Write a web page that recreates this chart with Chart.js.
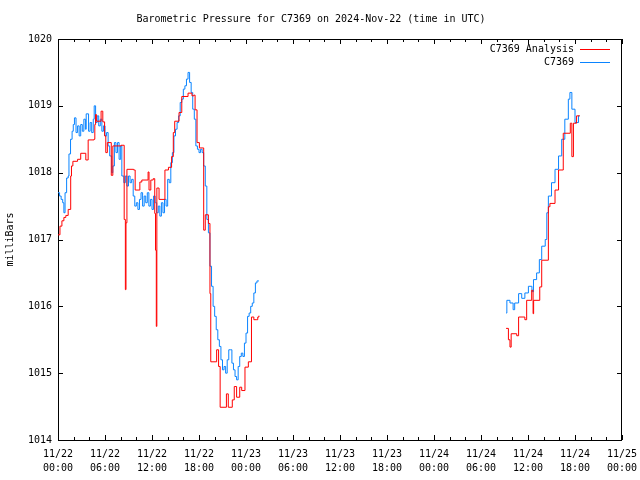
<!DOCTYPE html>
<html><head><meta charset="utf-8">
<script src="https://cdn.jsdelivr.net/npm/chart.js@4.4.1/dist/chart.umd.min.js"></script>
<style>html,body{margin:0;padding:0;background:#fff}#wrap{width:640px;height:480px}</style>
</head><body><div id="wrap"><canvas id="c" width="640" height="480"></canvas></div>
<script>
// ---- data (hours since 2024-11-22 00:00 UTC) ----
const dayLabels = ['11/22', '11/23', '11/24', '11/25'];
const hourLabels = ['00:00', '06:00', '12:00', '18:00'];
const yTickValues = [1014, 1015, 1016, 1017, 1018, 1019, 1020];
const seriesNames = ['C7369 Analysis', 'C7369'];

const analysisHours = [0, 0.25, 0.5, 0.75, 1.0, 1.3, 1.62, 1.72, 1.9, 2.5, 2.9, 3.55, 3.85, 4.6, 4.7, 4.8, 4.9, 5.5, 5.72, 5.95, 6.1, 6.3, 6.8, 7.0, 8.05, 8.45, 8.6, 8.68, 8.8, 9.65, 9.85, 10.45, 10.7, 11.5, 11.62, 11.85, 12.15, 12.35, 12.45, 12.55, 12.62, 12.9, 13.65, 14.1, 14.5, 14.72, 14.9, 15.45, 15.8, 16.6, 17.1, 17.35, 17.5, 17.75, 18.05, 18.6, 18.8, 19.2, 19.4, 19.5, 20.25, 20.5, 20.7, 21.5, 21.74, 22.25, 22.5, 22.8, 23.2, 23.45, 23.87, 24.3, 24.7, 25.0, 25.3, 25.5, 25.65,
  40,
  57.2, 57.5, 57.7, 57.85, 58.56, 58.8, 59.6, 59.83, 60.47, 60.65, 60.72, 61.5, 61.75, 62.6, 62.8, 63.45, 63.9, 64.5, 65.4, 65.6, 65.8, 66.2, 66.6];
const analysisValues = [1017.07, 1017.2, 1017.28, 1017.33, 1017.36, 1017.45, 1017.95, 1018.1, 1018.17, 1018.2, 1018.29, 1018.19, 1018.49, 1018.5, 1018.72, 1018.87, 1018.77, 1018.92, 1018.76, 1018.55, 1018.3, 1018.45, 1017.96, 1018.4, 1018.41, 1017.3, 1016.25, 1017.25, 1018.05, 1018.04, 1017.74, 1017.86, 1017.89, 1018.01, 1017.74, 1017.89, 1017.91, 1017.39, 1016.84, 1015.7, 1017.77, 1017.6, 1018.04, 1018.08, 1018.24, 1018.6, 1018.77, 1018.9, 1019.14, 1019.19, 1019.15, 1019.16, 1018.94, 1018.45, 1018.37, 1017.14, 1017.37, 1017.24, 1016.19, 1015.17, 1015.35, 1015.1, 1014.49, 1014.69, 1014.49, 1014.6, 1014.8, 1014.64, 1014.79, 1014.74, 1015.09, 1015.17, 1015.84, 1015.8, 1015.8, 1015.84, 1015.86,
  null,
  1015.67, 1015.5, 1015.39, 1015.59, 1015.56, 1015.84, 1015.8, 1016.09, 1016.24, 1015.89, 1016.09, 1016.29, 1016.69, 1017.49, 1017.54, 1017.74, 1018.04, 1018.59, 1018.74, 1018.24, 1018.74, 1018.85, 1018.85];

const stationHours = [0, 0.2, 0.4, 0.6, 0.75, 0.9, 1.1, 1.3, 1.4, 1.6, 1.8, 1.95, 2.1, 2.3, 2.5, 2.7, 2.9, 3.1, 3.3, 3.5, 3.6, 3.9, 4.1, 4.3, 4.5, 4.62, 4.8, 5.0, 5.2, 5.4, 5.6, 5.8, 6.0, 6.2, 6.4, 6.6, 6.85, 7.0, 7.2, 7.4, 7.6, 7.8, 8.0, 8.15, 8.4, 8.6, 8.8, 9.0, 9.2, 9.4, 9.6, 9.8, 10.0, 10.2, 10.4, 10.6, 10.8, 11.0, 11.2, 11.4, 11.6, 11.8, 12.0, 12.2, 12.4, 12.6, 12.8, 13.0, 13.2, 13.4, 13.6, 13.8, 14.0, 14.2, 14.4, 14.6, 14.8, 15.0, 15.2, 15.4, 15.6, 15.8, 16.0, 16.2, 16.4, 16.6, 16.8, 17.0, 17.2, 17.4, 17.6, 17.8, 18.0, 18.2, 18.4, 18.6, 18.8, 19.0, 19.2, 19.4, 19.6, 19.8, 20.0, 20.2, 20.4, 20.6, 20.8, 21.0, 21.2, 21.4, 21.6, 21.8, 22.0, 22.2, 22.4, 22.6, 22.8, 23.0, 23.2, 23.4, 23.6, 23.8, 24.0, 24.2, 24.4, 24.6, 24.8, 25.0, 25.2, 25.4, 25.65,
  40,
  57.2, 57.3, 57.7, 58.1, 58.3, 58.8, 59.2, 59.6, 60.05, 60.5, 60.7, 61.1, 61.45, 61.75, 62.2, 62.4, 62.6, 63.0, 63.45, 63.9, 64.3, 64.7, 65.15, 65.35, 65.6, 66.0, 66.45, 66.6];
const stationValues = [1017.7, 1017.65, 1017.6, 1017.55, 1017.4, 1017.7, 1017.92, 1017.95, 1018.28, 1018.5, 1018.62, 1018.72, 1018.82, 1018.6, 1018.7, 1018.55, 1018.72, 1018.62, 1018.8, 1018.65, 1018.88, 1018.62, 1018.75, 1018.6, 1018.8, 1019.0, 1018.75, 1018.85, 1018.7, 1018.8, 1018.62, 1018.7, 1018.55, 1018.6, 1018.4, 1018.25, 1018.0, 1018.1, 1018.45, 1018.3, 1018.45, 1018.2, 1018.4, 1017.95, 1017.85, 1017.95, 1017.8, 1017.95, 1017.85, 1017.9, 1017.65, 1017.5, 1017.55, 1017.45, 1017.6, 1017.7, 1017.5, 1017.65, 1017.55, 1017.7, 1017.5, 1017.6, 1017.45, 1017.65, 1017.55, 1017.4, 1017.5, 1017.35, 1017.55, 1017.4, 1017.6, 1017.5, 1017.9, 1017.85, 1018.15, 1018.3, 1018.55, 1018.65, 1018.75, 1018.85, 1019.05, 1019.1, 1019.25, 1019.3, 1019.4, 1019.5, 1019.35, 1019.2, 1018.95, 1018.8, 1018.4, 1018.35, 1018.3, 1018.35, 1018.3, 1018.1, 1017.8, 1017.3, 1017.1, 1016.6, 1016.3, 1016.0, 1015.85, 1015.65, 1015.5, 1015.4, 1015.2, 1015.05, 1015.1, 1015.0, 1015.2, 1015.35, 1015.35, 1015.15, 1015.05, 1014.95, 1014.9, 1015.1, 1015.25, 1015.3, 1015.25, 1015.45, 1015.6, 1015.85, 1015.9, 1016.0, 1016.05, 1016.2, 1016.35, 1016.38, 1016.38,
  null,
  1015.9, 1016.09, 1016.05, 1015.95, 1016.05, 1016.19, 1016.12, 1016.2, 1016.3, 1016.22, 1016.4, 1016.5, 1016.7, 1016.9, 1017.0, 1017.4, 1017.65, 1017.85, 1018.05, 1018.25, 1018.5, 1018.8, 1019.1, 1019.2, 1018.95, 1018.75, 1018.85, 1018.85];

const seriesColors = ['#ff0000', '#0a84ff'];

// ---- build ----
const toPoints = (xs, ys) => xs.map((x, i) => ({ x: x, y: ys[i] }));
const FONT = '"DejaVu Sans Mono", "Liberation Mono", monospace';

const framePlugin = {
  id: 'frame',
  beforeDatasetsDraw(chart) {
    const { ctx, chartArea: a, scales } = chart;
    ctx.save();
    ctx.strokeStyle = '#000';
    ctx.lineWidth = 1;
    ctx.strokeRect(Math.round(a.left) + 0.5, Math.round(a.top) + 0.5, Math.round(a.right - a.left) - 1, Math.round(a.bottom - a.top));
    ctx.beginPath();
    for (let h = 0; h <= 72; h += 2) {
      const px = Math.round(scales.x.getPixelForValue(h)) + 0.5;
      const len = h % 6 === 0 ? 5 : 3;
      ctx.moveTo(px, a.bottom); ctx.lineTo(px, a.bottom - len);
      ctx.moveTo(px, a.top); ctx.lineTo(px, a.top + len);
    }
    yTickValues.forEach(v => {
      const py = Math.round(scales.y.getPixelForValue(v)) + 0.5;
      ctx.moveTo(a.left, py); ctx.lineTo(a.left + 5, py);
      ctx.moveTo(a.right, py); ctx.lineTo(a.right - 5, py);
    });
    ctx.stroke();
    ctx.restore();
  },
  afterDraw(chart) {
    const { ctx } = chart;
    ctx.save();
    ctx.font = '10px ' + FONT;
    ctx.fillStyle = '#000';
    ctx.textAlign = 'right';
    ctx.textBaseline = 'middle';
    const rows = [49.5, 62.5];
    chart.data.datasets.forEach((ds, i) => {
      ctx.fillText(ds.label, 574, rows[i]);
      ctx.strokeStyle = ds.borderColor;
      ctx.lineWidth = 1;
      ctx.beginPath();
      ctx.moveTo(580, rows[i]); ctx.lineTo(610, rows[i]);
      ctx.stroke();
    });
    ctx.restore();
  }
};

Chart.defaults.color = '#000';
Chart.defaults.font.family = FONT;
Chart.defaults.font.size = 10;

new Chart(document.getElementById('c'), {
  type: 'line',
  data: {
    datasets: [
      { label: seriesNames[0], data: toPoints(analysisHours, analysisValues), borderColor: seriesColors[0], borderWidth: 1, stepped: true, pointRadius: 0, spanGaps: false, fill: false },
      { label: seriesNames[1], data: toPoints(stationHours, stationValues), borderColor: seriesColors[1], borderWidth: 1, stepped: true, pointRadius: 0, spanGaps: false, fill: false }
    ]
  },
  options: {
    responsive: false,
    animation: false,
    devicePixelRatio: 1,
    layout: { padding: { left: 0, right: 18, top: 0, bottom: 0 } },
    plugins: {
      legend: { display: false },
      tooltip: { enabled: false },
      title: {
        display: true,
        text: 'Barometric Pressure for C7369 on 2024-Nov-22 (time in UTC)',
        font: { family: FONT, size: 10, weight: 'normal' },
        color: '#000',
        padding: { top: 13, bottom: 14 }
      }
    },
    scales: {
      x: {
        type: 'linear', min: 0, max: 72,
        grid: { display: false, drawTicks: false },
        border: { display: false },
        afterFit: s => { s.height = 40; s.paddingLeft = 0; s.paddingRight = 0; },
        ticks: {
          stepSize: 6, maxRotation: 0, autoSkip: false, padding: 7,
          font: { family: FONT, size: 10, lineHeight: 1.4 },
          callback: v => [dayLabels[Math.floor(v / 24)], hourLabels[(v % 24) / 6]]
        }
      },
      y: {
        min: 1014, max: 1020,
        grid: { display: false, drawTicks: false },
        border: { display: false },
        afterFit: s => { s.width = 58; s.paddingTop = 0; s.paddingBottom = 0; },
        ticks: { stepSize: 1, padding: 6, font: { family: FONT, size: 10 }, callback: v => String(v) },
        title: { display: true, text: 'milliBars', font: { family: FONT, size: 10 }, padding: { top: 4, bottom: 0 } }
      }
    }
  },
  plugins: [framePlugin]
});
</script>
</body></html>
